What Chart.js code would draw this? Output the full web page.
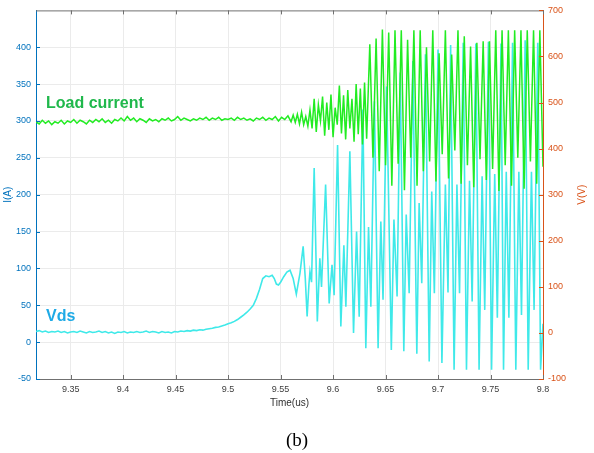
<!DOCTYPE html>
<html>
<head>
<meta charset="utf-8">
<title>Load current / Vds</title>
<script src="https://cdn.jsdelivr.net/npm/chart.js@4.4.1/dist/chart.umd.min.js"></script>
<style>
  body { margin: 0; background: #fff; }
  canvas { display: block; }
</style>
</head>
<body>
<canvas id="wave" width="594" height="453"></canvas>
<script>
// axis ticks
const timeTicks = [9.35, 9.4, 9.45, 9.5, 9.55, 9.6, 9.65, 9.7, 9.75, 9.8];
const currentTicks = [-50, 0, 50, 100, 150, 200, 250, 300, 350, 400];
const voltTicks = [-100, 0, 100, 200, 300, 400, 500, 600, 700];

// load current, I(A)
const currentTime = [
  9.317, 9.320, 9.323, 9.326, 9.329, 9.332, 9.335, 9.338, 9.341, 9.344,
  9.347, 9.350, 9.353, 9.356, 9.359, 9.362, 9.365, 9.368, 9.371, 9.374,
  9.377, 9.380, 9.383, 9.386, 9.389, 9.392, 9.395, 9.398, 9.401, 9.404,
  9.407, 9.410, 9.413, 9.416, 9.419, 9.422, 9.425, 9.428, 9.431, 9.434,
  9.437, 9.440, 9.443, 9.446, 9.449, 9.452, 9.455, 9.458, 9.461, 9.464,
  9.467, 9.470, 9.473, 9.476, 9.479, 9.482, 9.485, 9.488, 9.491, 9.494,
  9.497, 9.500, 9.503, 9.506, 9.509, 9.512, 9.515, 9.518, 9.521, 9.524,
  9.527, 9.530, 9.533, 9.536, 9.539, 9.542, 9.545, 9.548, 9.551, 9.554,
  9.557, 9.560, 9.562, 9.564, 9.566, 9.568, 9.570, 9.572, 9.574, 9.576,
  9.578, 9.580, 9.582, 9.584, 9.586, 9.588, 9.590, 9.592, 9.594, 9.596,
  9.598, 9.600, 9.602, 9.604, 9.606, 9.608, 9.610, 9.612, 9.614, 9.616,
  9.618, 9.620, 9.622, 9.624, 9.626, 9.628, 9.630, 9.632, 9.635, 9.638,
  9.641, 9.644, 9.647, 9.650, 9.653, 9.656, 9.659, 9.662, 9.665, 9.668,
  9.671, 9.674, 9.677, 9.680, 9.683, 9.686, 9.689, 9.692, 9.695, 9.698,
  9.701, 9.704, 9.707, 9.710, 9.713, 9.716, 9.719, 9.722, 9.725, 9.728,
  9.731, 9.734, 9.737, 9.740, 9.743, 9.746, 9.749, 9.752, 9.755, 9.758,
  9.761, 9.764, 9.767, 9.770, 9.773, 9.776, 9.779, 9.782, 9.785, 9.788,
  9.791, 9.794, 9.797, 9.800
];
const currentAmps = [
  299, 296, 301, 297, 300, 295, 299, 297, 301, 296,
  300, 298, 302, 297, 301, 299, 296, 301, 298, 302,
  299, 303, 298, 301, 297, 302, 300, 304, 300, 306,
  301, 304, 299, 303, 301, 298, 303, 300, 302, 299,
  303, 301, 304, 300, 302, 306, 301, 304, 302, 300,
  303, 301, 304, 302, 305, 301, 304, 302, 305, 301,
  303, 302, 304, 301, 305, 302, 304, 301, 303, 300,
  304, 302, 305, 301, 304, 302, 306, 300, 305, 302,
  307, 299, 308, 298, 309, 296, 312, 295, 306, 293,
  315, 290, 330, 285, 322, 300, 333, 280, 325, 288,
  336, 278, 318, 295, 348, 283, 335, 275, 342, 290,
  330, 272, 350, 282, 344, 268, 352, 276, 404, 250,
  412, 232, 424, 240, 420, 212, 423, 242, 423, 206,
  410, 250, 423, 212, 423, 232, 400, 245, 423, 218,
  392, 255, 423, 222, 390, 260, 423, 215, 415, 240,
  401, 210, 406, 248, 408, 220, 408, 235, 423, 205,
  423, 240, 423, 212, 423, 250, 423, 208, 423, 245,
  423, 215, 423, 238
];

// drain-source voltage, V(V)
const vdsTime = [
  9.317, 9.320, 9.323, 9.326, 9.329, 9.332, 9.335, 9.338, 9.341, 9.344,
  9.347, 9.350, 9.353, 9.356, 9.359, 9.362, 9.365, 9.368, 9.371, 9.374,
  9.377, 9.380, 9.383, 9.386, 9.389, 9.392, 9.395, 9.398, 9.401, 9.404,
  9.407, 9.410, 9.413, 9.416, 9.419, 9.422, 9.425, 9.428, 9.431, 9.434,
  9.437, 9.440, 9.443, 9.446, 9.449, 9.452, 9.455, 9.458, 9.461, 9.464,
  9.467, 9.470, 9.473, 9.476, 9.479, 9.482, 9.485, 9.488, 9.491, 9.494,
  9.497, 9.500, 9.503, 9.506, 9.509, 9.512, 9.515, 9.518, 9.521, 9.524,
  9.527, 9.530, 9.533, 9.536, 9.539, 9.542, 9.544, 9.546, 9.548, 9.550,
  9.553, 9.556, 9.559, 9.562, 9.565, 9.5685, 9.5715, 9.5735, 9.5753, 9.577,
  9.578, 9.5795, 9.582, 9.585, 9.5874, 9.589, 9.5929, 9.5963, 9.599, 9.601,
  9.6043, 9.6074, 9.6103, 9.6122, 9.616, 9.6195, 9.6224, 9.6249, 9.6284, 9.6312,
  9.6338, 9.636, 9.6394, 9.6429, 9.6455, 9.6476, 9.651, 9.6555, 9.658, 9.661,
  9.664, 9.6674, 9.6697, 9.6725, 9.676, 9.6798, 9.682, 9.6845, 9.688, 9.6916,
  9.694, 9.6965, 9.700, 9.7037, 9.707, 9.7095, 9.712, 9.7153, 9.718, 9.7205,
  9.724, 9.7271, 9.730, 9.7325, 9.736, 9.7391, 9.742, 9.7445, 9.748, 9.751,
  9.754, 9.7565, 9.760, 9.7624, 9.765, 9.7675, 9.771, 9.7741, 9.777, 9.7795,
  9.783, 9.7859, 9.789, 9.7915, 9.795, 9.7977, 9.800
];
const vdsVolts = [
  3, 5, 2, 4, 1, 3, 2, 4, 1, 3,
  0, 2, 3, 1, 4, 2, 0, 3, 1, 2,
  4, 1, 3, 0, 2, -1, 2, 1, 3, 0,
  2, 1, 3, 1, 2, 4, 1, 3, 2, 0,
  3, 1, 2, 0, 3, 2, 4, 3, 5, 4,
  6, 5, 7, 6, 8, 9, 10, 12, 13, 15,
  17, 20, 22, 25, 29, 34, 39, 45, 52, 60,
  75, 95, 118, 124, 122, 125, 118, 106, 104, 110,
  122, 132, 136, 118, 84, 130, 188, 120, 36, 105,
  133, 110, 358, 25, 162, 100, 322, 64, 148, 82,
  408, 14, 190, 57, 394, 0, 220, 35, 485, -33,
  230, 57, 503, -33, 242, 72, 535, -37, 246, 79,
  565, -40, 257, 86, 590, -45, 282, 108, 605, -62,
  307, 86, 615, -65, 322, 88, 625, -80, 322, 86,
  630, -80, 330, 68, 628, -80, 340, 50, 632, -80,
  345, 33, 628, -80, 350, 33, 630, -80, 350, 39,
  635, -80, 350, 50, 630, -80, 20
];

const pairs = (xs, ys) => xs.map((x, i) => ({ x: x, y: ys[i] }));
const fmt = v => String(+v.toFixed(2));

const BLUE = '#0072BD';
const ORANGE = '#D95319';

// inward tick marks, box top edge and the text callouts
const decorations = {
  id: 'decorations',
  afterDraw(chart) {
    const { ctx, chartArea: a, scales } = chart;
    ctx.save();
    ctx.lineWidth = 1;

    ctx.strokeStyle = '#707070';
    ctx.beginPath();
    ctx.moveTo(a.left, a.top + 0.5);
    ctx.lineTo(a.right, a.top + 0.5);
    for (const t of timeTicks) {
      const x = Math.round(scales.x.getPixelForValue(t)) + 0.5;
      ctx.moveTo(x, a.bottom); ctx.lineTo(x, a.bottom - 4);
      ctx.moveTo(x, a.top); ctx.lineTo(x, a.top + 4);
    }
    ctx.stroke();

    ctx.strokeStyle = BLUE;
    ctx.beginPath();
    for (const t of currentTicks) {
      const y = Math.round(scales.yI.getPixelForValue(t)) + 0.5;
      ctx.moveTo(a.left, y); ctx.lineTo(a.left + 4, y);
    }
    ctx.stroke();

    ctx.strokeStyle = ORANGE;
    ctx.beginPath();
    for (const t of voltTicks) {
      const y = Math.round(scales.yV.getPixelForValue(t)) + 0.5;
      ctx.moveTo(a.right, y); ctx.lineTo(a.right - 4, y);
    }
    ctx.stroke();

    // right axis title, reading bottom to top
    ctx.fillStyle = ORANGE;
    ctx.font = '10px "Liberation Sans", Arial, sans-serif';
    ctx.textAlign = 'center';
    ctx.textBaseline = 'middle';
    ctx.translate(582, (a.top + a.bottom) / 2);
    ctx.rotate(-Math.PI / 2);
    ctx.fillText('V(V)', 0, 0);
    ctx.setTransform(1, 0, 0, 1, 0, 0);

    ctx.textAlign = 'left';
    ctx.textBaseline = 'alphabetic';
    ctx.font = 'bold 16px "Liberation Sans", Arial, sans-serif';
    ctx.fillStyle = '#20b84c';
    ctx.fillText('Load current', 46, 108);
    ctx.fillStyle = '#1eaae6';
    ctx.fillText('Vds', 46, 321);

    ctx.fillStyle = '#000';
    ctx.textAlign = 'center';
    ctx.font = '19px "Liberation Serif", "Times New Roman", serif';
    ctx.fillText('(b)', 297, 446);
    ctx.restore();
  }
};

Chart.defaults.font.family = '"Liberation Sans", Arial, sans-serif';
Chart.defaults.font.size = 9;

new Chart(document.getElementById('wave'), {
  type: 'line',
  data: {
    datasets: [
      {
        label: 'Load current',
        data: pairs(currentTime, currentAmps),
        yAxisID: 'yI',
        borderColor: '#22ec22',
        borderWidth: 1.5,
        pointRadius: 0,
        tension: 0
      },
      {
        label: 'Vds',
        data: pairs(vdsTime, vdsVolts),
        yAxisID: 'yV',
        borderColor: '#3fe9e9',
        borderWidth: 1.6,
        pointRadius: 0,
        tension: 0
      }
    ]
  },
  options: {
    responsive: false,
    animation: false,
    events: [],
    layout: { padding: { top: 10, bottom: 38, left: 0, right: 0 } },
    plugins: { legend: { display: false }, tooltip: { enabled: false } },
    scales: {
      x: {
        type: 'linear',
        min: 9.317,
        max: 9.8,
        afterBuildTicks: s => { s.ticks = timeTicks.map(v => ({ value: v })); },
        afterFit: s => { s.height = 36; },
        ticks: { color: '#404040', padding: 5, maxRotation: 0, autoSkip: false, callback: fmt },
        grid: { color: '#ebebeb', drawTicks: false },
        border: { color: '#707070' },
        title: { display: true, text: 'Time(us)', color: '#303030', font: { size: 10 }, padding: { top: 0, bottom: 6 } }
      },
      yI: {
        type: 'linear',
        position: 'left',
        min: -50,
        max: 450,
        afterBuildTicks: s => { s.ticks = currentTicks.map(v => ({ value: v })); },
        afterFit: s => { s.width = 36; },
        ticks: { color: BLUE, padding: 5, callback: fmt },
        grid: { color: '#ebebeb', drawTicks: false },
        border: { color: BLUE },
        title: { display: true, text: 'I(A)', color: BLUE, font: { size: 10 }, padding: { top: 2, bottom: 0 } }
      },
      yV: {
        type: 'linear',
        position: 'right',
        min: -100,
        max: 700,
        afterBuildTicks: s => { s.ticks = voltTicks.map(v => ({ value: v })); },
        afterFit: s => { s.width = 51; },
        ticks: { color: ORANGE, padding: 5, callback: fmt },
        grid: { display: false, drawTicks: false },
        border: { color: ORANGE }
      }
    }
  },
  plugins: [decorations]
});
</script>
</body>
</html>
